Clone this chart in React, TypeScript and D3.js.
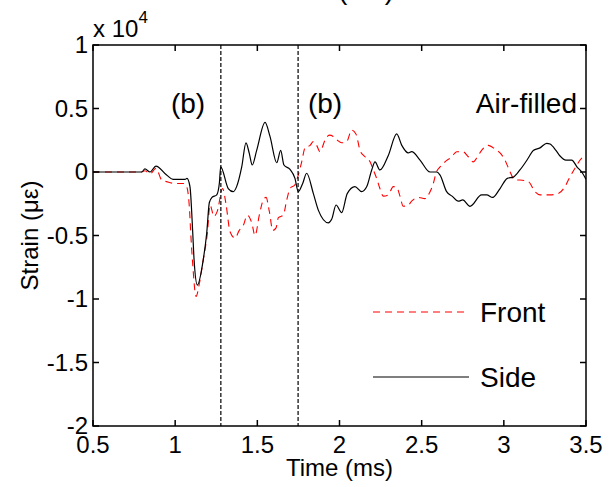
import React, { useEffect, useRef } from "react";
import * as d3 from "d3";

// strain values are in units of 10^4 microstrain
const sideTime = [0.5, 0.796, 0.816, 0.847, 0.883, 0.948, 0.987, 1.06, 1.072, 1.09, 1.107, 1.115, 1.135, 1.171, 1.192, 1.208, 1.224, 1.253, 1.269, 1.277, 1.323, 1.354, 1.374, 1.405, 1.431, 1.451, 1.469, 1.496, 1.547, 1.577, 1.618, 1.642, 1.662, 1.699, 1.729, 1.749, 1.776, 1.8, 1.841, 1.871, 1.932, 1.953, 1.979, 2.013, 2.047, 2.094, 2.135, 2.166, 2.196, 2.216, 2.246, 2.297, 2.348, 2.379, 2.419, 2.439, 2.49, 2.551, 2.592, 2.612, 2.652, 2.685, 2.723, 2.75, 2.794, 2.865, 2.896, 2.932, 2.977, 3.021, 3.058, 3.098, 3.149, 3.179, 3.22, 3.261, 3.281, 3.317, 3.342, 3.378, 3.413, 3.447, 3.474, 3.5];
const sideStrain = [0, 0, 0.024, 0, 0.047, -0.024, -0.058, -0.058, -0.05, -0.115, -0.48, -0.69, -0.89, -0.69, -0.48, -0.24, -0.2, -0.18, -0.087, 0.04, -0.13, -0.155, -0.115, 0.04, 0.23, 0.147, 0.055, 0.17, 0.39, 0.28, 0.073, 0.17, 0.055, 0.02, -0.05, -0.155, -0.09, -0.01, -0.17, -0.3, -0.4, -0.37, -0.26, -0.32, -0.17, -0.115, -0.155, -0.115, 0.016, 0.08, 0.016, 0.13, 0.3, 0.21, 0.15, 0.16, 0.094, 0, 0, -0.024, -0.155, -0.19, -0.23, -0.22, -0.27, -0.18, -0.18, -0.2, -0.13, -0.05, -0.04, 0.016, 0.11, 0.17, 0.19, 0.226, 0.22, 0.17, 0.126, 0.094, 0.094, 0.037, 0, -0.058];

const frontTime = [0.5, 0.796, 0.816, 0.847, 0.883, 0.918, 0.948, 0.999, 1.05, 1.07, 1.086, 1.096, 1.107, 1.127, 1.147, 1.171, 1.196, 1.212, 1.236, 1.256, 1.289, 1.309, 1.334, 1.364, 1.39, 1.415, 1.439, 1.466, 1.486, 1.512, 1.533, 1.553, 1.573, 1.594, 1.614, 1.628, 1.658, 1.679, 1.699, 1.729, 1.749, 1.77, 1.79, 1.821, 1.841, 1.861, 1.881, 1.912, 1.938, 1.962, 1.987, 2.013, 2.044, 2.074, 2.1, 2.125, 2.155, 2.186, 2.206, 2.226, 2.246, 2.267, 2.297, 2.327, 2.348, 2.368, 2.388, 2.419, 2.439, 2.48, 2.52, 2.551, 2.571, 2.587, 2.612, 2.642, 2.683, 2.713, 2.75, 2.784, 2.814, 2.835, 2.865, 2.906, 2.936, 2.977, 3.007, 3.033, 3.068, 3.098, 3.149, 3.19, 3.22, 3.281, 3.331, 3.372, 3.403, 3.433, 3.474, 3.5];
const frontStrain = [0, 0, 0.01, -0.016, 0.03, -0.063, -0.076, -0.09, -0.09, -0.115, -0.27, -0.51, -0.73, -0.98, -0.88, -0.69, -0.48, -0.26, -0.35, -0.31, -0.13, -0.25, -0.47, -0.52, -0.46, -0.42, -0.34, -0.4, -0.5, -0.34, -0.23, -0.2, -0.31, -0.46, -0.44, -0.36, -0.34, -0.22, -0.13, -0.1, -0.024, 0.08, 0.19, 0.21, 0.24, 0.21, 0.16, 0.25, 0.29, 0.28, 0.25, 0.23, 0.24, 0.33, 0.3, 0.17, 0.12, 0.08, 0.016, -0.05, -0.13, -0.19, -0.18, -0.115, -0.12, -0.19, -0.27, -0.26, -0.23, -0.2, -0.21, -0.155, -0.09, -0.01, 0.04, 0.08, 0.12, 0.16, 0.16, 0.12, 0.08, 0.11, 0.17, 0.21, 0.19, 0.15, 0.094, 0.016, -0.063, -0.063, -0.076, -0.155, -0.18, -0.18, -0.17, -0.115, -0.037, 0.03, 0.11, 0.13];

const markerTimes = [1.278, 1.748];
const xTicks = [0.5, 1, 1.5, 2, 2.5, 3, 3.5];
const yTicks = [1, 0.5, 0, -0.5, -1, -1.5, -2];
const seriesNames = ["Front", "Side"];

const FONT = "'Liberation Sans', Arial, Helvetica, sans-serif";

const App = () => {
  const ref = useRef<SVGSVGElement>(null);

  useEffect(() => {
    const width = 611,
      height = 487;
    const left = 93,
      right = 586,
      top = 45,
      bottom = 426;

    const svg = d3.select(ref.current);
    svg.selectAll("*").remove();

    const x = d3.scaleLinear().domain([0.5, 3.5]).range([left, right]);
    const y = d3.scaleLinear().domain([-2, 1]).range([bottom, top]);

    svg.append("rect").attr("width", width).attr("height", height).attr("fill", "white");

    // cut-off title at the very top
    svg
      .append("text")
      .attr("x", 366)
      .attr("y", -1)
      .attr("text-anchor", "middle")
      .style("font-family", FONT)
      .style("font-size", "28px")
      .text("(ms)");

    svg
      .append("defs")
      .append("clipPath")
      .attr("id", "plotclip")
      .append("rect")
      .attr("x", left)
      .attr("y", top)
      .attr("width", right - left)
      .attr("height", bottom - top);

    const line = d3
      .line<[number, number]>()
      .x((d) => x(d[0]))
      .y((d) => y(d[1]))
      .curve(d3.curveMonotoneX);

    const front = frontTime.map((t, i) => [t, frontStrain[i]] as [number, number]);
    const side = sideTime.map((t, i) => [t, sideStrain[i]] as [number, number]);

    const plot = svg.append("g").attr("clip-path", "url(#plotclip)");

    plot
      .append("path")
      .attr("d", line(front))
      .attr("fill", "none")
      .attr("stroke", "#ff0000")
      .attr("stroke-width", 1.1)
      .attr("stroke-dasharray", "7,5");

    plot
      .append("path")
      .attr("d", line(side))
      .attr("fill", "none")
      .attr("stroke", "black")
      .attr("stroke-width", 1.2);

    // vertical markers
    plot
      .selectAll("line.marker")
      .data(markerTimes)
      .join("line")
      .attr("class", "marker")
      .attr("x1", (d) => x(d))
      .attr("x2", (d) => x(d))
      .attr("y1", top)
      .attr("y2", bottom)
      .attr("stroke", "black")
      .attr("stroke-width", 1.2)
      .attr("stroke-dasharray", "4,2");

    // box + inward ticks on all sides
    const axes = svg.append("g").attr("stroke", "black").attr("stroke-width", 1.5);
    axes
      .append("rect")
      .attr("x", left)
      .attr("y", top)
      .attr("width", right - left)
      .attr("height", bottom - top)
      .attr("fill", "none");

    const tl = 6;
    xTicks.forEach((t) => {
      axes.append("line").attr("x1", x(t)).attr("x2", x(t)).attr("y1", bottom).attr("y2", bottom - tl);
      axes.append("line").attr("x1", x(t)).attr("x2", x(t)).attr("y1", top).attr("y2", top + tl);
    });
    yTicks.forEach((v) => {
      axes.append("line").attr("x1", left).attr("x2", left + tl).attr("y1", y(v)).attr("y2", y(v));
      axes.append("line").attr("x1", right).attr("x2", right - tl).attr("y1", y(v)).attr("y2", y(v));
    });

    const labels = svg.append("g").style("font-family", FONT).attr("fill", "black");

    labels
      .selectAll("text.xt")
      .data(xTicks)
      .join("text")
      .attr("class", "xt")
      .attr("x", (d) => x(d))
      .attr("y", 453)
      .attr("text-anchor", "middle")
      .style("font-size", "24px")
      .text((d) => String(d));

    labels
      .selectAll("text.yt")
      .data(yTicks)
      .join("text")
      .attr("class", "yt")
      .attr("x", 88)
      .attr("y", (d) => y(d) + 8)
      .attr("text-anchor", "end")
      .style("font-size", "24px")
      .text((d) => String(d));

    // exponent label
    const exp = labels.append("text").attr("x", 93).attr("y", 37).style("font-size", "24px");
    exp.append("tspan").text("x 10");
    exp.append("tspan").attr("dy", -14).style("font-size", "17px").text("4");

    labels
      .append("text")
      .attr("x", (left + right) / 2)
      .attr("y", 476)
      .attr("text-anchor", "middle")
      .style("font-size", "24px")
      .text("Time (ms)");

    labels
      .append("text")
      .attr("transform", `translate(38,${(top + bottom) / 2}) rotate(-90)`)
      .attr("text-anchor", "middle")
      .style("font-size", "24px")
      .text("Strain (με)");

    // annotations
    labels.append("text").attr("x", 188).attr("y", 113).attr("text-anchor", "middle").style("font-size", "28px").text("(b)");
    labels.append("text").attr("x", 325).attr("y", 113).attr("text-anchor", "middle").style("font-size", "28px").text("(b)");
    labels.append("text").attr("x", 577).attr("y", 113).attr("text-anchor", "end").style("font-size", "28px").text("Air-filled");

    // legend
    const legendY = [312, 377];
    const legend = svg.append("g");
    legend
      .selectAll("line")
      .data(seriesNames)
      .join("line")
      .attr("x1", 373)
      .attr("x2", 469)
      .attr("y1", (d, i) => legendY[i])
      .attr("y2", (d, i) => legendY[i])
      .attr("stroke", (d, i) => (i === 0 ? "#ff0000" : "black"))
      .attr("stroke-width", (d, i) => (i === 0 ? 1.1 : 1.2))
      .attr("stroke-dasharray", (d, i) => (i === 0 ? "7,5" : null));
    legend
      .selectAll("text")
      .data(seriesNames)
      .join("text")
      .attr("x", 480)
      .attr("y", (d, i) => legendY[i] + 10)
      .style("font-family", FONT)
      .style("font-size", "28px")
      .text((d) => d);
  }, []);

  return (
    <svg
      ref={ref}
      width={611}
      height={487}
      style={{ position: "absolute", left: 0, top: 0 }}
    ></svg>
  );
};

export default App;
